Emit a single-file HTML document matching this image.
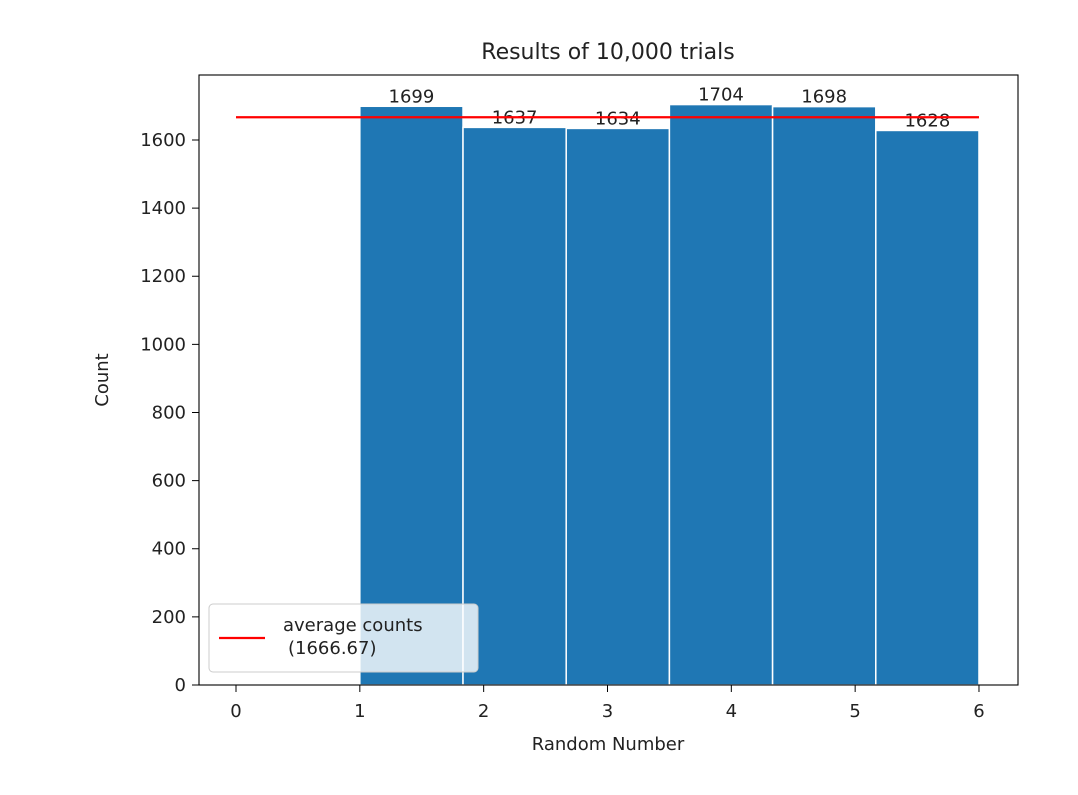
<!DOCTYPE html>
<html><head><meta charset="utf-8"><style>
body{margin:0;background:#fff;}
svg text{font-family:"DejaVu Sans","Liberation Sans",sans-serif;fill:#222;}
</style></head><body>
<svg id="chart" width="1078" height="790" xmlns="http://www.w3.org/2000/svg">
<rect width="1078" height="790" fill="#fff"/>
<g id="bars"></g>
<g id="labels"></g>
<line id="avg" stroke="#ff0000" stroke-width="2.2"/>
<rect x="199" y="75" width="819" height="610" fill="none" stroke="#000" stroke-width="1.1"/>
<g id="xticks"></g><g id="yticks"></g>
<text x="608" y="59" font-size="22" text-anchor="middle">Results of 10,000 trials</text>
<text x="608" y="750" font-size="18" text-anchor="middle">Random Number</text>
<text transform="translate(108,380) rotate(-90)" font-size="18" text-anchor="middle">Count</text>
<g>
<rect x="209" y="604" width="269" height="68" rx="4" fill="#fff" fill-opacity="0.8" stroke="#ccc"/>
<line x1="219" y1="638" x2="265" y2="638" stroke="#ff0000" stroke-width="2.2"/>
<text x="283" y="631" font-size="18">average counts</text>
<text x="288" y="654" font-size="18">(1666.67)</text>
</g>
</svg>
<script>
const edges=[1,1.8333,2.6667,3.5,4.3333,5.1667,6];
const counts=[1699,1637,1634,1704,1698,1628];
const average=[1666.67];
const xTicks=[0,1,2,3,4,5,6];
const yTicks=[0,200,400,600,800,1000,1200,1400,1600];
const X=v=>236+v*123.83, Y=v=>685-v*0.34063;
const NS="http://www.w3.org/2000/svg";
function mk(t,a,p){const e=document.createElementNS(NS,t);for(const k in a)e.setAttribute(k,a[k]);document.getElementById(p).appendChild(e);return e;}
counts.forEach((c,i)=>{
 const r=mk('rect',{x:X(edges[i]),y:Y(c),width:X(edges[i+1])-X(edges[i]),height:Y(0)-Y(c),fill:'#1f77b4',stroke:'#fff','stroke-width':1.5},'bars');
 
 
 const t=mk('text',{x:(X(edges[i])+X(edges[i+1]))/2,y:Y(c)-4,'font-size':18,'text-anchor':'middle'},'labels');
 t.textContent=c;
 
 
});
const a=document.getElementById('avg');
a.setAttribute('x1',X(0));a.setAttribute('x2',X(6));a.setAttribute('y1',Y(average[0]));a.setAttribute('y2',Y(average[0]));
xTicks.forEach(v=>{
 mk('line',{x1:X(v),x2:X(v),y1:685,y2:692,stroke:'#000'},'xticks');
 const t=mk('text',{x:X(v),y:717,'font-size':18,'text-anchor':'middle'},'xticks');
 t.textContent=v;
 
 
});
yTicks.forEach(v=>{
 mk('line',{x1:192,x2:199,y1:Y(v),y2:Y(v),stroke:'#000'},'yticks');
 const t=mk('text',{x:186,y:Y(v)+6,'font-size':18,'text-anchor':'end'},'yticks');
 t.textContent=v;
 
 
});
</script>
</body></html>
